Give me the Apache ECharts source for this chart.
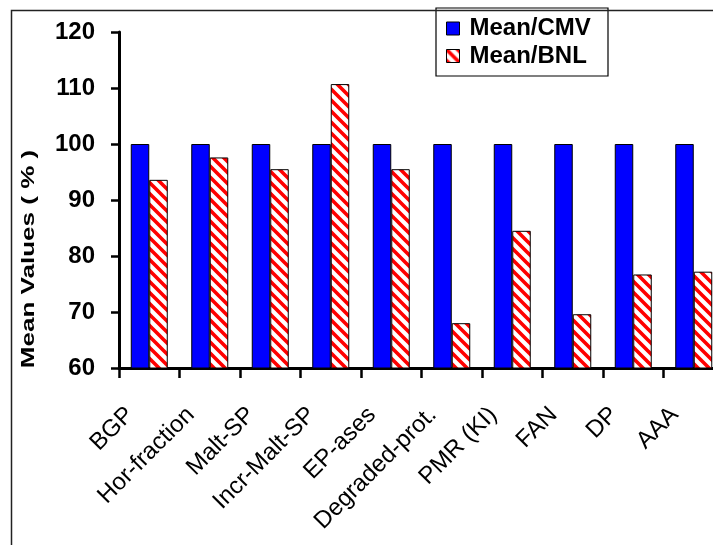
<!DOCTYPE html>
<html>
<head>
<meta charset="utf-8">
<script src="https://cdn.jsdelivr.net/npm/echarts@6/dist/echarts.min.js"></script>
<style>
html,body{margin:0;padding:0;background:#fff;}
#main{width:713px;height:545px;}
</style>
</head>
<body>
<div id="main"></div>
<script>
const categories = ['BGP', 'Hor-fraction', 'Malt-SP', 'Incr-Malt-SP', 'EP-ases', 'Degraded-prot.', 'PMR (KI)', 'FAN', 'DP', 'AAA'];
const meanCMV = [100, 100, 100, 100, 100, 100, 100, 100, 100, 100];
const meanBNL = [93.6, 97.6, 95.5, 110.7, 95.5, 68.0, 84.5, 69.6, 76.7, 77.2];
const seriesNames = ['Mean/CMV', 'Mean/BNL'];
const yMin = 60, yMax = 120, yStep = 10;
const yTitle = 'Mean Values ( % )';

function hatchPattern() {
  const s = 11;
  const c = document.createElement('canvas');
  c.width = s; c.height = s;
  const g = c.getContext('2d');
  g.fillStyle = '#ffffff';
  g.fillRect(0, 0, s, s);
  g.strokeStyle = '#ff0000';
  g.lineWidth = 3.6;
  g.beginPath();
  for (const k of [-s, 0, s]) {
    g.moveTo(k - 2, -2);
    g.lineTo(k + s + 2, s + 2);
  }
  g.stroke();
  return c;
}

const font = '"Liberation Sans", Arial, Helvetica, sans-serif';
const chart = echarts.init(document.getElementById('main'), null, {renderer: 'canvas'});
chart.setOption({
  animation: false,
  backgroundColor: '#ffffff',
  grid: {left: 119, width: 605, top: 32, height: 336, containLabel: false, outerBoundsMode: 'none'},
  legend: {
    orient: 'vertical',
    left: 446, top: 16.5,
    z: 20,
    itemWidth: 13, itemHeight: 13,
    itemGap: 3.5,
    padding: 0,
    icon: 'rect',
    itemStyle: {borderColor: '#000', borderWidth: 1},
    textStyle: {fontFamily: font, fontSize: 24, fontWeight: 'bold', color: '#000', lineHeight: 24, padding: [0, 0, 0, 5]},
    data: seriesNames
  },
  xAxis: {
    type: 'category',
    data: categories,
    axisLine: {lineStyle: {color: '#000', width: 3}},
    axisTick: {show: true, inside: false, length: 10, alignWithLabel: false, lineStyle: {color: '#000', width: 2.5}},
    axisLabel: {rotate: 45, interval: 0, margin: 24, padding: [0, 27, 0, 0], fontFamily: font, fontSize: 24, color: '#000'},
    splitLine: {show: false}
  },
  yAxis: {
    type: 'value',
    min: yMin, max: yMax, interval: yStep,
    axisLine: {show: true, lineStyle: {color: '#000', width: 3}},
    axisTick: {show: true, inside: false, length: 8, lineStyle: {color: '#000', width: 2.5}},
    axisLabel: {margin: 24, fontFamily: font, fontSize: 24, fontWeight: 'bold', color: '#000'},
    splitLine: {show: false}
  },
  graphic: [
    {type: 'rect', left: 9, top: 8, silent: true, z: 100,
     shape: {x: 0, y: 0, width: 900, height: 700},
     style: {fill: 'none', stroke: '#222', lineWidth: 1.5}},
    {type: 'rect', silent: true, z: 1,
     shape: {x: 436, y: 8, width: 172, height: 68},
     style: {fill: '#fff', stroke: '#000', lineWidth: 1.2}},
    {type: 'text', silent: true, z: 100,
     x: 29, y: 259, rotation: Math.PI / 2, scaleX: 1.37,
     style: {text: yTitle, font: 'bold 19px ' + font, fill: '#000', align: 'center', verticalAlign: 'middle'}}
  ],
  series: [
    {
      name: seriesNames[0], type: 'bar', data: meanCMV,
      barWidth: 18.5, barGap: '0%',
      itemStyle: {color: '#0000ff', borderColor: '#000', borderWidth: 1}
    },
    {
      name: seriesNames[1], type: 'bar', data: meanBNL,
      barWidth: 18.5, barGap: '0%',
      itemStyle: {color: {image: hatchPattern(), repeat: 'repeat'}, borderColor: '#000', borderWidth: 1}
    }
  ]
});
</script>
</body>
</html>
